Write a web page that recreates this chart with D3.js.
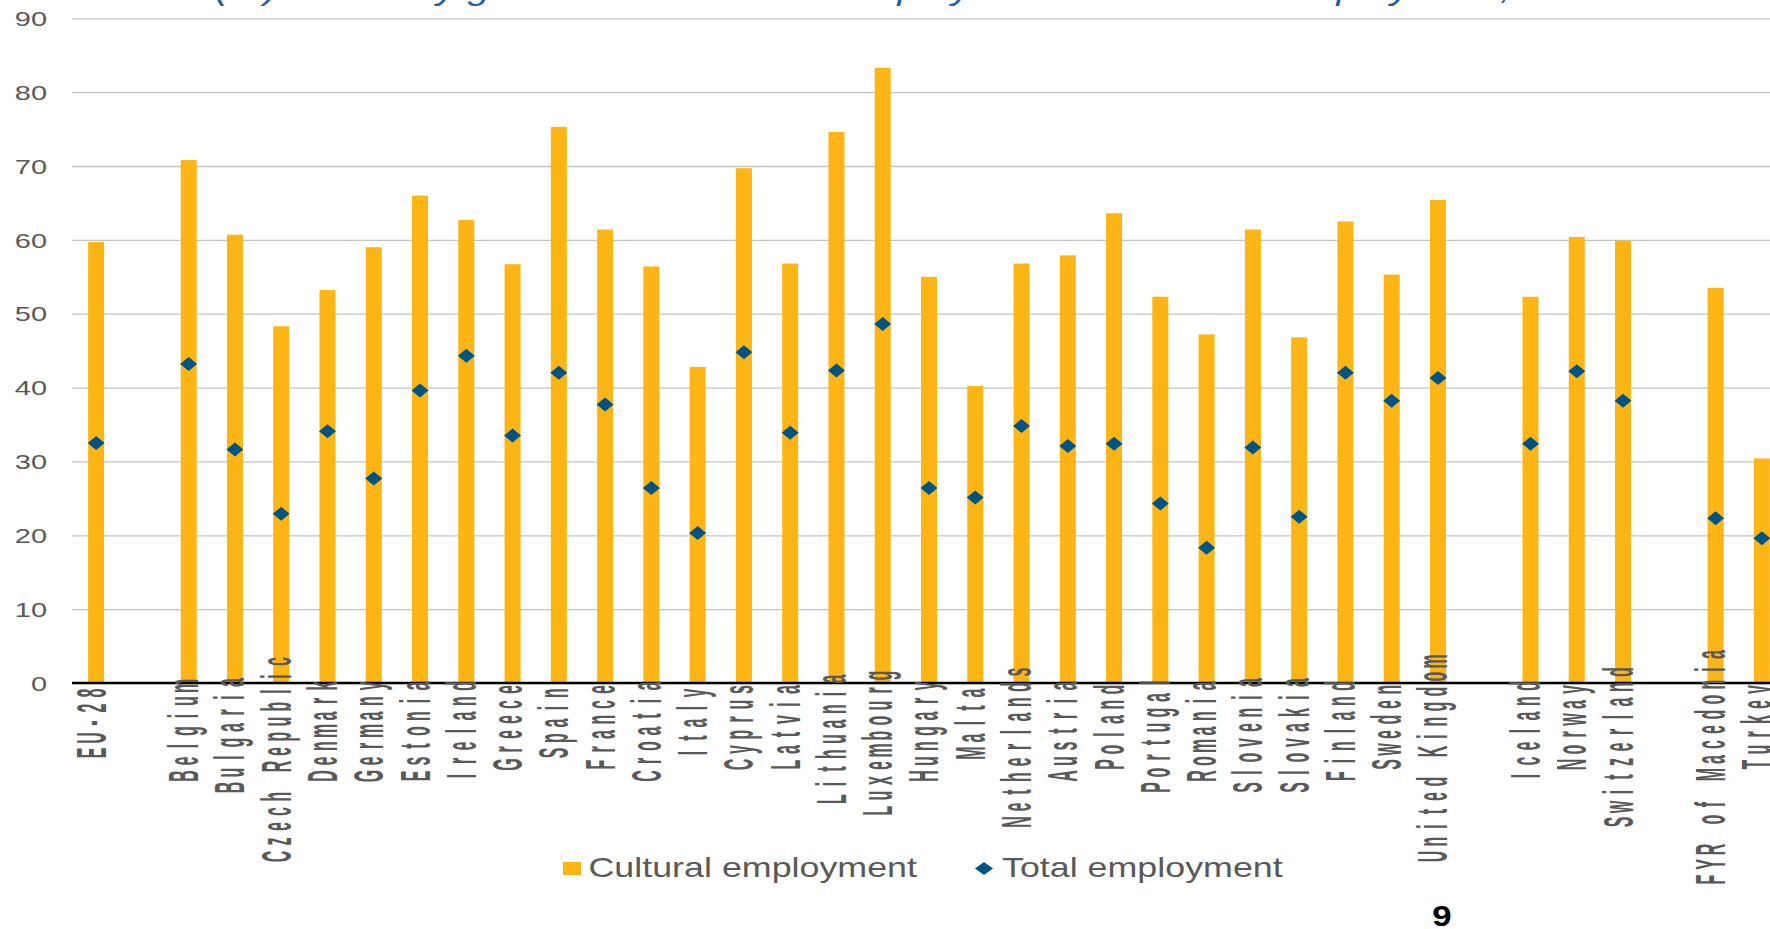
<!DOCTYPE html>
<html><head><meta charset="utf-8">
<script src="https://cdn.jsdelivr.net/npm/d3@7"></script>
<style>html,body{margin:0;padding:0;background:#fff;overflow:hidden} svg{display:block}</style>
</head><body>
<svg id="chart" width="1770" height="929"></svg>
<script>
// ---- data ----
const categories = ["EU-28","","Belgium","Bulgaria","Czech Republic","Denmark","Germany","Estonia","Ireland","Greece","Spain","France","Croatia","Italy","Cyprus","Latvia","Lithuania","Luxembourg","Hungary","Malta","Netherlands","Austria","Poland","Portugal","Romania","Slovenia","Slovakia","Finland","Sweden","United Kingdom","","Iceland","Norway","Switzerland","","FYR of Macedonia","Turkey"];
const cultural = [59.7,null,70.8,60.7,48.3,53.2,59.0,66.0,62.7,56.7,75.3,61.4,56.4,42.8,69.7,56.8,74.6,83.3,55.0,40.2,56.8,57.9,63.6,52.3,47.2,61.4,46.8,62.5,55.3,65.4,null,52.3,60.4,59.9,null,53.5,30.4];
const total = [32.5,null,43.2,31.6,22.9,34.1,27.7,39.6,44.3,33.5,42.0,37.7,26.4,20.3,44.8,33.9,42.3,48.6,26.4,25.1,34.8,32.1,32.4,24.3,18.3,31.9,22.5,42.0,38.2,41.3,null,32.4,42.2,38.2,null,22.3,19.6];
const yTicks = [0,10,20,30,40,50,60,70,80,90];
const seriesNames = ["Cultural employment","Total employment"];
const titleText = "Share (%) of tertiary graduates in cultural employment and in total employment, 2015";
const pageNumber = "9";

// ---- layout ----
const W = 1770, H = 929;
const FONT = "'Liberation Sans', Arial, sans-serif";
const barColor = "#FDB515", dotColor = "#005483", textColor = "#595959";
const n = categories.length;
const svg = d3.select("#chart");

const x = d3.scaleBand().domain(d3.range(n)).range([73, 73 + n * 46.27])
  .paddingInner(0.654).paddingOuter(0.327);
const y = d3.scaleLinear().domain([0, 90]).range([683, 18.3]);

// title (clipped at the top edge)
svg.append("g").attr("transform", "translate(96,-1.5) scale(1.3,1)")
  .append("text").attr("font-family", FONT).attr("font-style", "italic")
  .attr("font-size", 31).attr("fill", "#1F5FA8").text(titleText);

// y axis + grid
const ySx = 1.45;
const yAxis = svg.append("g").attr("transform", "translate(72,0)")
  .call(d3.axisLeft(y).tickValues(yTicks).tickSize(-(W - 72)));
yAxis.select(".domain").remove();
yAxis.selectAll(".tick line").attr("stroke", "#C4C4C4").attr("stroke-width", 1.3);
yAxis.selectAll(".tick text").attr("font-family", FONT).attr("font-size", 20)
  .attr("fill", textColor).attr("x", -25 / ySx).attr("dy", "0.36em")
  .attr("transform", `scale(${ySx},1)`);

// bars
const idx = d3.range(n).filter(i => cultural[i] != null);
svg.append("g").selectAll("rect").data(idx).join("rect")
  .attr("x", i => x(i)).attr("width", x.bandwidth())
  .attr("y", i => y(cultural[i])).attr("height", i => y(0) - y(cultural[i]))
  .attr("fill", barColor);

// diamonds
const diamond = "M0,-7L8.5,0L0,7L-8.5,0Z";
svg.append("g").selectAll("path").data(d3.range(n).filter(i => total[i] != null)).join("path")
  .attr("d", diamond)
  .attr("transform", i => `translate(${x(i) + x.bandwidth() / 2},${y(total[i])})`)
  .attr("fill", dotColor);

// x axis
const xAxis = svg.append("g").attr("transform", `translate(0,${y(0)})`)
  .call(d3.axisBottom(x).tickSize(0).tickSizeOuter(0).tickFormat(i => categories[i]));
xAxis.select(".domain").attr("stroke", "#000").attr("stroke-width", 2.5)
  .attr("d", `M72,0H${W}`);
const pitch = 15;
xAxis.selectAll(".tick text").each(function(i) {
  const label = categories[i];
  const L = label.length;
  const yc = 20 + 4 * L;
  const xs = d3.range(L).map(k => (k - (L - 1) / 2) * pitch);
  d3.select(this)
    .attr("font-family", FONT).attr("font-size", 16).attr("font-weight", "bold")
    .attr("fill", textColor).attr("text-anchor", "middle")
    .attr("dy", null).attr("y", 0)
    .attr("x", xs.join(" "))
    .attr("transform", `translate(9.5,${yc}) scale(2.7,1) rotate(-90)`);
});

// legend
const lg = svg.append("g");
lg.append("rect").attr("x", 563).attr("y", 862).attr("width", 18).attr("height", 13).attr("fill", barColor);
lg.append("g").attr("transform", "translate(588.5,877) scale(1.28,1)")
  .append("text").attr("font-family", FONT).attr("font-size", 28).attr("fill", textColor).text(seriesNames[0]);
lg.append("path").attr("d", "M0,-6.5L9,0L0,6.5L-9,0Z").attr("transform", "translate(984,868.5)").attr("fill", dotColor);
lg.append("g").attr("transform", "translate(1002,877) scale(1.28,1)")
  .append("text").attr("font-family", FONT).attr("font-size", 28).attr("fill", textColor).text(seriesNames[1]);

// page number
svg.append("g").attr("transform", "translate(1442,926) scale(1.2,1)")
  .append("text").attr("font-family", FONT).attr("font-size", 29).attr("font-weight", "bold")
  .attr("text-anchor", "middle").attr("fill", "#000").text(pageNumber);
</script>
</body></html>
